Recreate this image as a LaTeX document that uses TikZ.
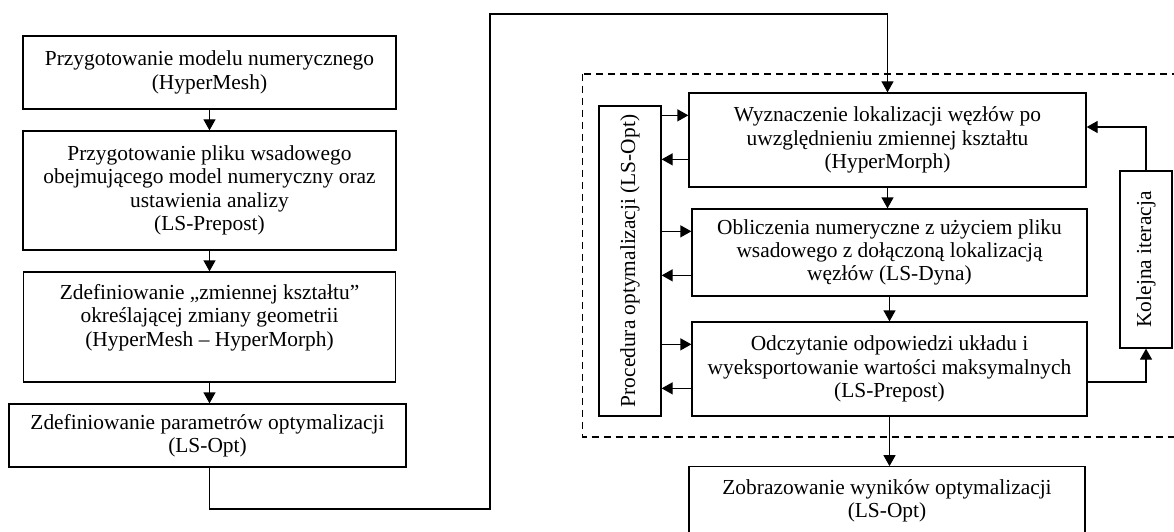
\documentclass[tikz,border=0pt]{standalone}
\usepackage{fontspec}
\setmainfont{Liberation Serif}
\usepackage{graphicx}
\usetikzlibrary{arrows.meta}

\tikzset{
  blok/.style={draw, line width=1.3pt, align=center, inner sep=0pt,
    font=\fontsize{21.4}{23.3}\selectfont},
  strz/.style={line width=1.3pt, -{Triangle[length=11pt,width=12pt]}},
}

\begin{document}
\begin{tikzpicture}[x=1pt,y=-1pt]
    \useasboundingbox (0,0) rectangle (1174,532);

    % Preparation steps (left column)
    \node[blok, minimum width=373, minimum height=73] (prep) at (209.5,72.5)
        {Przygotowanie modelu numerycznego\\(HyperMesh)};
    \node[blok, minimum width=373, minimum height=119] (wsad) at (209.5,190.5)
        {Przygotowanie pliku wsadowego\\obejmującego model numeryczny oraz\\ustawienia analizy\\(LS-Prepost)};
    \node[blok, minimum width=372, minimum height=110] (zmienna) at (209.5,327)
        {Zdefiniowanie „zmiennej kształtu”\\określającej zmiany geometrii\\(HyperMesh – HyperMorph)\\\mbox{}};
    \node[blok, minimum width=397, minimum height=63] (param) at (207.5,435.5)
        {Zdefiniowanie parametrów optymalizacji\\(LS-Opt)};

    % Optimization loop (right column)
    \draw[dashed, dash pattern=on 7pt off 5pt, line width=1.2pt] (582.7,74) rectangle (1190,437);
    \node[blok, minimum width=62, minimum height=310] (proc) at (630,261)
        {\rotatebox{90}{Procedura optymalizacji (LS-Opt)}};
    \node[blok, minimum width=397, minimum height=94] (wezly) at (887.5,140)
        {Wyznaczenie lokalizacji węzłów po\\uwzględnieniu zmiennej kształtu\\(HyperMorph)};
    \node[blok, minimum width=395, minimum height=87] (obl) at (889.5,252.5)
        {Obliczenia numeryczne z użyciem pliku\\wsadowego z dołączoną lokalizacją\\węzłów (LS-Dyna)};
    \node[blok, minimum width=395, minimum height=94] (odczyt) at (889.5,369)
        {Odczytanie odpowiedzi układu i\\wyeksportowanie wartości maksymalnych\\(LS-Prepost)};
    \node[blok, minimum width=52, minimum height=177] (iter) at (1146,259.5)
        {\rotatebox{90}{Kolejna iteracja}};
    \node[blok, minimum width=396, minimum height=110] (wyniki) at (887,521.8)
        {Zobrazowanie wyników optymalizacji\\(LS-Opt)\\\mbox{}\\\mbox{}};

    % Arrows, left column
    \draw[strz] (prep.south) -- (prep.south |- wsad.north);
    \draw[strz] (wsad.south) -- (wsad.south |- zmienna.north);
    \draw[strz] (zmienna.south) -- (zmienna.south |- param.north);

    % Link to the loop
    \coordinate (dol) at (490,509);
    \coordinate (gora) at (490,14);
    \draw[strz] (zmienna.south |- param.south) |- (dol) -- (gora) -| (wezly.north);

    % Arrows, right column
    \draw[strz] (wezly.south) -- (wezly.south |- obl.north);
    \draw[strz] (obl.south) -- (obl.south |- odczyt.north);
    \draw[strz] (odczyt.south) -- (odczyt.south |- wyniki.north);
    \foreach \n in {wezly, obl, odczyt} {
        \draw[strz] ([yshift=-23pt]\n.north west -| proc.east) -- ([yshift=-23pt]\n.north west);
        \draw[strz] ([yshift=-67pt]\n.north west) -- ([yshift=-67pt]\n.north west -| proc.east);
    }

    % Next iteration
    \draw[strz] ([yshift=-13pt]odczyt.east) -| (iter.south);
    \draw[strz] (iter.north) |- ([yshift=13pt]wezly.east);
\end{tikzpicture}
\end{document}
